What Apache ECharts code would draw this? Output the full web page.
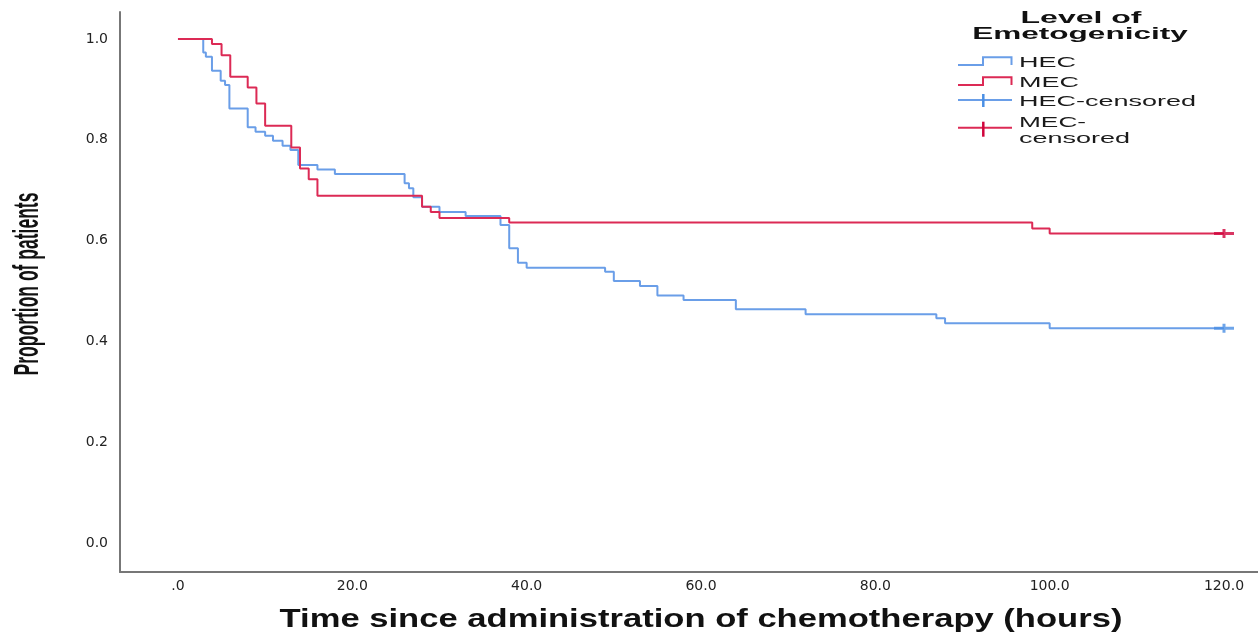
<!DOCTYPE html>
<html><head><meta charset="utf-8">
<script src="https://cdn.jsdelivr.net/npm/echarts@6/dist/echarts.min.js"></script>
<style>html,body{margin:0;padding:0;background:#fff}#c{width:1258px;height:633px}</style>
</head><body><div id="c"></div>
<script>
// ---- data ----
const hecTimes  = [0, 2.9, 3.2, 3.9, 4.9, 5.4, 5.9, 8, 8.9, 10, 10.9, 12, 12.9, 13.8, 16, 18, 26, 26.5, 27, 28, 30, 33, 37, 38, 39, 40, 49, 50, 53, 55, 58, 64, 72, 87, 88, 100, 120];
const hecValues = [1.0, 0.973, 0.965, 0.937, 0.917, 0.909, 0.862, 0.825, 0.816, 0.808, 0.798, 0.788, 0.780, 0.750, 0.741, 0.732, 0.714, 0.704, 0.686, 0.667, 0.657, 0.649, 0.631, 0.585, 0.556, 0.546, 0.538, 0.520, 0.510, 0.491, 0.482, 0.464, 0.454, 0.446, 0.436, 0.426, 0.426];
const mecTimes  = [0, 3.9, 5, 6, 8, 9, 10, 13, 14, 15, 16, 28, 29, 30, 38, 98, 100, 120];
const mecValues = [1.0, 0.990, 0.968, 0.925, 0.904, 0.872, 0.828, 0.785, 0.743, 0.722, 0.689, 0.667, 0.657, 0.645, 0.636, 0.624, 0.614, 0.614];
const hecCensoredTimes = [120];
const hecCensoredValues = [0.426];
const mecCensoredTimes = [120];
const mecCensoredValues = [0.614];
const xTickValues = [0, 20, 40, 60, 80, 100, 120];
const yTickValues = [0, 0.2, 0.4, 0.6, 0.8, 1.0];
const seriesNames = ['HEC', 'MEC', 'HEC-censored', 'MEC-censored'];
const legendTitle = ['Level of', 'Emetogenicity'];
const xTitle = 'Time since administration of chemotherapy (hours)';
const yTitle = 'Proportion of patients';

// ---- styles ----
const BLUE = '#6a9ee8', RED = '#dc2a55';
const BLUE_MARK = '#4a8fe4', RED_MARK = '#d0043c';
const plusPath = 'path://M0,3 L20,3 L20,6 L0,6 Z M8.5,0 L11.5,0 L11.5,9 L8.5,9 Z';
const zip = (a, b) => a.map((t, i) => [t, b[i]]);

const chart = echarts.init(document.getElementById('c'), null, {renderer: 'canvas'});
const txt = (text, x, y, opt) => Object.assign({
  type: 'text', x: x, y: y, silent: true,
  style: Object.assign({text: text, fill: '#1a1a1a', align: 'left', verticalAlign: 'middle',
    textAlign: 'left', textVerticalAlign: 'middle'}, opt.style)
}, opt.el || {});

chart.setOption({
  animation: false,
  backgroundColor: '#ffffff',
  grid: {left: 120, right: 0, top: 12, bottom: 61, containLabel: false},
  xAxis: {
    type: 'value', min: -6.65, max: 123.9,
    axisLine: {show: true, onZero: false, lineStyle: {color: '#777', width: 2}},
    axisTick: {show: false},
    splitLine: {show: false},
    axisLabel: {
      customValues: xTickValues, margin: 7,
      fontFamily: '"DejaVu Sans", sans-serif', fontSize: 14, color: '#222',
      formatter: v => v === 0 ? '.0' : v.toFixed(1)
    }
  },
  yAxis: {
    type: 'value', min: -0.0575, max: 1.0536,
    axisLine: {show: true, onZero: false, lineStyle: {color: '#777', width: 2}},
    axisTick: {show: false},
    splitLine: {show: false},
    axisLabel: {
      customValues: yTickValues, margin: 12, padding: [5, 0, 0, 0],
      fontFamily: '"DejaVu Sans", sans-serif', fontSize: 14, color: '#222',
      formatter: v => v.toFixed(1)
    }
  },
  series: [
    {name: seriesNames[0], type: 'line', step: 'end', data: zip(hecTimes, hecValues),
     showSymbol: false, symbol: 'none', lineStyle: {color: BLUE, width: 2}, z: 2},
    {name: seriesNames[1], type: 'line', step: 'end', data: zip(mecTimes, mecValues),
     showSymbol: false, symbol: 'none', lineStyle: {color: RED, width: 2}, z: 3},
    {name: seriesNames[2], type: 'scatter', data: zip(hecCensoredTimes, hecCensoredValues),
     symbol: plusPath, symbolSize: [20, 9], itemStyle: {color: BLUE_MARK}, z: 4},
    {name: seriesNames[3], type: 'scatter', data: zip(mecCensoredTimes, mecCensoredValues),
     symbol: plusPath, symbolSize: [20, 9], itemStyle: {color: RED_MARK}, z: 4}
  ],
  graphic: [
    // axis titles
    txt(xTitle, 701, 620, {el: {scaleX: 1.33},
      style: {font: 'bold 26px "Liberation Sans", Arial, sans-serif', align: 'center', textAlign: 'center', fill: '#111'}}),
    txt(yTitle, 28, 284, {el: {rotation: Math.PI / 2, scaleY: 2.0},
      style: {font: 'bold 17.5px "Liberation Sans", Arial, sans-serif', align: 'center', textAlign: 'center', fill: '#111'}}),
    // legend title
    txt(legendTitle[0], 1081, 18.5, {el: {scaleX: 2.0},
      style: {font: 'bold 16px "Liberation Sans", Arial, sans-serif', align: 'center', textAlign: 'center', fill: '#111'}}),
    txt(legendTitle[1], 1080, 35, {el: {scaleX: 1.97},
      style: {font: 'bold 16px "Liberation Sans", Arial, sans-serif', align: 'center', textAlign: 'center', fill: '#111'}}),
    // legend icons
    {type: 'polyline', silent: true, shape: {points: [[958, 65], [983, 65], [983, 57.3], [1011.5, 57.3], [1011.5, 65]]},
     style: {stroke: BLUE, lineWidth: 2, fill: null}},
    {type: 'polyline', silent: true, shape: {points: [[958, 85], [983, 85], [983, 77.3], [1011.5, 77.3], [1011.5, 85]]},
     style: {stroke: RED, lineWidth: 2, fill: null}},
    {type: 'line', silent: true, shape: {x1: 958, y1: 100, x2: 1012, y2: 100}, style: {stroke: BLUE, lineWidth: 2}},
    {type: 'line', silent: true, shape: {x1: 983.3, y1: 94, x2: 983.3, y2: 107}, style: {stroke: BLUE_MARK, lineWidth: 2.5}},
    {type: 'line', silent: true, shape: {x1: 958, y1: 127.7, x2: 1012, y2: 127.7}, style: {stroke: RED, lineWidth: 2}},
    {type: 'line', silent: true, shape: {x1: 983.3, y1: 121.7, x2: 983.3, y2: 136.7}, style: {stroke: RED_MARK, lineWidth: 2.5}},
    // legend labels
    txt(seriesNames[0], 1019, 62.5, {el: {scaleX: 1.8}, style: {font: '15px "Liberation Sans", Arial, sans-serif'}}),
    txt(seriesNames[1], 1019, 82.5, {el: {scaleX: 1.8}, style: {font: '15px "Liberation Sans", Arial, sans-serif'}}),
    txt(seriesNames[2], 1019, 102, {el: {scaleX: 1.8}, style: {font: '15px "Liberation Sans", Arial, sans-serif'}}),
    txt('MEC-', 1019, 123, {el: {scaleX: 1.75}, style: {font: '15px "Liberation Sans", Arial, sans-serif'}}),
    txt('censored', 1019, 138.5, {el: {scaleX: 1.8}, style: {font: '15px "Liberation Sans", Arial, sans-serif'}})
  ]
});
</script></body></html>
